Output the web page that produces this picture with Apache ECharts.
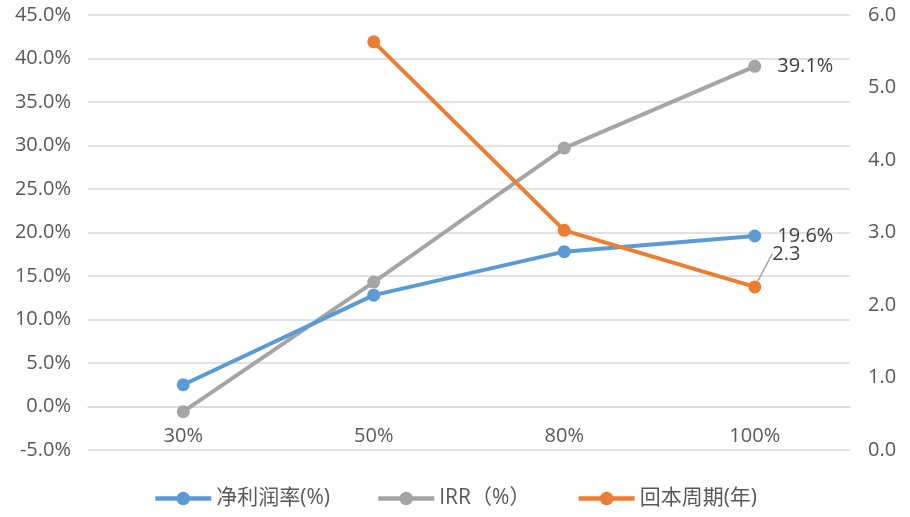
<html>
<head>
	<meta charset="utf-8">
	<script src="https://cdn.jsdelivr.net/npm/echarts@6/dist/echarts.min.js"></script>
	<style>
		body { margin:0; background:#fff; }
		#chart_1 { width:910px; height:517px; }
	</style>
</head>
<body>
<div id="chart_1"></div>
<script>
	var categories = ['30%', '50%', '80%', '100%'];
	var netMargin = [2.5, 12.8, 17.8, 19.6];
	var irr = [-0.6, 14.3, 29.7, 39.1];
	var payback = [null, 5.63, 3.03, 2.25];
	var leftTicks = { min: -5, max: 45, step: 5 };
	var rightTicks = { min: 0, max: 6, step: 1 };

	var txt = '#595959';
	var font = '"Open Sans", "Noto Sans", "Noto Sans CJK SC", sans-serif';
	var fs = 20;
	var myChart = echarts.init(document.getElementById('chart_1'));

	// 只在最后一个点上显示数值标签
	function withLastLabel(values, fmt, extra) {
		return values.map(function (v, i) {
			if (i != values.length - 1) return v;
			var item = { value: v, label: {
				show: true, position: 'right', distance: 16,
				color: '#404040', fontSize: fs, fontFamily: font,
				formatter: function (p) { return fmt(p.value); }
			} };
			for (var k in extra) item[k] = extra[k];
			return item;
		});
	}

	var option = {
		animation: false,
		textStyle: { fontFamily: font },
		grid: { left: 88, right: 60, top: 15, bottom: 67 },
		legend: {
			bottom: 3, left: 'center', itemWidth: 56, itemHeight: 17, itemGap: 46,
			lineStyle: { width: 4.5 },
			textStyle: { color: txt, fontSize: 21, fontFamily: font },
			data: ['净利润率(%)', 'IRR（%）', '回本周期(年)']
		},
		xAxis: [{
			type: 'category', data: categories, boundaryGap: true,
			// 类目轴放在 0% 那条线上
			offset: -43.5,
			axisLine: { onZero: false, lineStyle: { color: '#d9d9d9', width: 1.5 } },
			axisTick: { show: false },
			axisLabel: { color: txt, fontSize: fs, margin: 20, fontFamily: font }
		}],
		yAxis: [{
			type: 'value', min: leftTicks.min, max: leftTicks.max, interval: leftTicks.step,
			axisLine: { show: false }, axisTick: { show: false },
			splitLine: { lineStyle: { color: '#d9d9d9', width: 1.5 } },
			axisLabel: { color: txt, fontSize: fs, margin: 17, fontFamily: font,
				formatter: function (v) { return v.toFixed(1) + '%'; } }
		}, {
			type: 'value', min: rightTicks.min, max: rightTicks.max, interval: rightTicks.step,
			axisLine: { show: false }, axisTick: { show: false }, splitLine: { show: false },
			axisLabel: { color: txt, fontSize: fs, margin: 18, fontFamily: font,
				formatter: function (v) { return v.toFixed(1); } }
		}],
		series: [{
			name: '净利润率(%)', type: 'line', yAxisIndex: 0,
			data: withLastLabel(netMargin, function (v) { return v.toFixed(1) + '%'; }),
			color: '#5B9BD5', symbol: 'circle', symbolSize: 13,
			lineStyle: { width: 4 }, z: 3
		}, {
			name: 'IRR（%）', type: 'line', yAxisIndex: 0,
			data: withLastLabel(irr, function (v) { return v.toFixed(1) + '%'; }),
			color: '#A5A5A5', symbol: 'circle', symbolSize: 13,
			lineStyle: { width: 4 }, z: 2
		}, {
			name: '回本周期(年)', type: 'line', yAxisIndex: 1,
			data: withLastLabel(payback, function (v) { return v.toFixed(1); },
				{ labelLine: { show: true, lineStyle: { color: '#A5A5A5', width: 1.5 } } }),
			labelLayout: function (p) {
				return p.dataIndex == categories.length - 1 ? { dx: -5, dy: -33 } : {};
			},
			color: '#ED7D31', symbol: 'circle', symbolSize: 13,
			lineStyle: { width: 4 }, z: 4
		}]
	};
	myChart.setOption(option);
</script>
</body>
</html>
